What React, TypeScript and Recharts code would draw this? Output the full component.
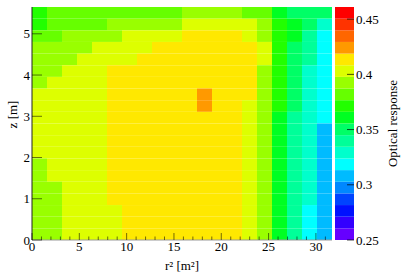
import React from 'react';
import { ScatterChart, Scatter, XAxis, YAxis, ReferenceArea } from 'recharts';

const FONT = "'Liberation Serif', 'Times New Roman', 'DejaVu Serif', serif";
const TEXT_STYLE = { fontFamily: FONT, fontSize: 13 };

// histogram ranges
const R2_MAX = 31.7;
const Z_MAX = 5.65;

// axis ticks
const xTicks = [0, 1, 2, 3, 4, 5, 6, 7, 8, 9, 10, 11, 12, 13, 14, 15, 16, 17, 18, 19, 20, 21, 22, 23, 24, 25, 26, 27, 28, 29, 30, 31];
const yTicks = [0, 1, 2, 3, 4, 5];
const scaleTicks = [0.25, 0.3, 0.35, 0.4, 0.45];

// colour scale
const SCALE_MIN = 0.25;
const SCALE_MAX = 0.461;
const palette = [
  '#6600ff', '#3300ff', '#0011ff', '#0044ff', '#0088ff',
  '#00bbff', '#00ffff', '#00ffcc', '#00ff99', '#00ff66',
  '#00ff22', '#22ff00', '#66ff00', '#99ff00', '#ddff00',
  '#ffe800', '#ff9900', '#ff6600', '#ff3300', '#ff0000',
];

// optical response, one array per z bin (zRow19 = top row), 20 r² bins each
const zRow19 = [0.371, 0.382, 0.382, 0.382, 0.382, 0.382, 0.382, 0.382, 0.382, 0.382, 0.392, 0.392, 0.392, 0.392, 0.382, 0.382, 0.361, 0.350, 0.350, 0.350];
const zRow18 = [0.371, 0.382, 0.382, 0.382, 0.382, 0.392, 0.392, 0.392, 0.392, 0.392, 0.403, 0.403, 0.403, 0.403, 0.403, 0.392, 0.371, 0.361, 0.350, 0.329];
const zRow17 = [0.382, 0.382, 0.392, 0.392, 0.392, 0.392, 0.403, 0.403, 0.403, 0.403, 0.413, 0.413, 0.413, 0.413, 0.403, 0.392, 0.371, 0.361, 0.340, 0.319];
const zRow16 = [0.392, 0.392, 0.392, 0.392, 0.403, 0.403, 0.403, 0.403, 0.413, 0.413, 0.413, 0.413, 0.413, 0.413, 0.413, 0.403, 0.371, 0.350, 0.340, 0.319];
const zRow15 = [0.392, 0.392, 0.392, 0.403, 0.403, 0.403, 0.403, 0.413, 0.413, 0.413, 0.413, 0.413, 0.413, 0.413, 0.413, 0.403, 0.371, 0.350, 0.340, 0.319];
const zRow14 = [0.392, 0.392, 0.403, 0.403, 0.403, 0.413, 0.413, 0.413, 0.413, 0.413, 0.413, 0.413, 0.413, 0.413, 0.413, 0.392, 0.371, 0.350, 0.329, 0.319];
const zRow13 = [0.392, 0.403, 0.403, 0.403, 0.403, 0.413, 0.413, 0.413, 0.413, 0.413, 0.413, 0.413, 0.413, 0.413, 0.413, 0.392, 0.371, 0.350, 0.329, 0.319];
const zRow12 = [0.403, 0.403, 0.403, 0.403, 0.403, 0.413, 0.413, 0.413, 0.413, 0.413, 0.413, 0.424, 0.413, 0.413, 0.413, 0.392, 0.371, 0.350, 0.329, 0.319];
const zRow11 = [0.403, 0.403, 0.403, 0.403, 0.403, 0.413, 0.413, 0.413, 0.413, 0.413, 0.413, 0.424, 0.413, 0.413, 0.403, 0.392, 0.371, 0.350, 0.329, 0.319];
const zRow10 = [0.403, 0.403, 0.403, 0.403, 0.403, 0.413, 0.413, 0.413, 0.413, 0.413, 0.413, 0.413, 0.413, 0.413, 0.403, 0.392, 0.361, 0.340, 0.329, 0.319];
const zRow9 = [0.403, 0.403, 0.403, 0.403, 0.403, 0.413, 0.413, 0.413, 0.413, 0.413, 0.413, 0.413, 0.413, 0.413, 0.403, 0.392, 0.361, 0.340, 0.329, 0.308];
const zRow8 = [0.403, 0.403, 0.403, 0.403, 0.403, 0.413, 0.413, 0.413, 0.413, 0.413, 0.413, 0.413, 0.413, 0.413, 0.403, 0.392, 0.361, 0.340, 0.329, 0.308];
const zRow7 = [0.403, 0.403, 0.403, 0.403, 0.403, 0.413, 0.413, 0.413, 0.413, 0.413, 0.413, 0.413, 0.413, 0.413, 0.403, 0.392, 0.361, 0.340, 0.329, 0.308];
const zRow6 = [0.392, 0.403, 0.403, 0.403, 0.403, 0.413, 0.413, 0.413, 0.413, 0.413, 0.413, 0.413, 0.413, 0.413, 0.403, 0.392, 0.361, 0.340, 0.329, 0.308];
const zRow5 = [0.392, 0.403, 0.403, 0.403, 0.403, 0.413, 0.413, 0.413, 0.413, 0.413, 0.413, 0.413, 0.413, 0.413, 0.403, 0.392, 0.361, 0.340, 0.329, 0.308];
const zRow4 = [0.392, 0.392, 0.403, 0.403, 0.403, 0.413, 0.413, 0.413, 0.413, 0.413, 0.413, 0.413, 0.413, 0.413, 0.403, 0.392, 0.361, 0.340, 0.329, 0.308];
const zRow3 = [0.392, 0.392, 0.403, 0.403, 0.403, 0.413, 0.413, 0.413, 0.413, 0.413, 0.413, 0.413, 0.413, 0.413, 0.403, 0.392, 0.361, 0.340, 0.329, 0.308];
const zRow2 = [0.392, 0.392, 0.403, 0.403, 0.403, 0.403, 0.413, 0.413, 0.413, 0.413, 0.413, 0.413, 0.413, 0.413, 0.403, 0.392, 0.361, 0.340, 0.319, 0.308];
const zRow1 = [0.392, 0.392, 0.403, 0.403, 0.403, 0.403, 0.413, 0.413, 0.413, 0.413, 0.413, 0.413, 0.413, 0.413, 0.403, 0.392, 0.361, 0.340, 0.319, 0.308];
const zRow0 = [0.392, 0.392, 0.403, 0.403, 0.403, 0.403, 0.413, 0.413, 0.413, 0.413, 0.413, 0.413, 0.413, 0.413, 0.403, 0.392, 0.361, 0.340, 0.319, 0.308];

const rowsTopDown = [
  zRow19, zRow18, zRow17, zRow16, zRow15, zRow14, zRow13, zRow12, zRow11, zRow10,
  zRow9, zRow8, zRow7, zRow6, zRow5, zRow4, zRow3, zRow2, zRow1, zRow0,
];

const N_Z = rowsTopDown.length;
const N_R = rowsTopDown[0].length;
const dR = R2_MAX / N_R;
const dZ = Z_MAX / N_Z;
const STEP = (SCALE_MAX - SCALE_MIN) / palette.length;

const colorOf = (v: number) => {
  const i = Math.floor((v - SCALE_MIN) / STEP);
  return palette[Math.max(0, Math.min(palette.length - 1, i))];
};

const cells = rowsTopDown.flatMap((row, i) =>
  row.map((v, j) => ({
    r0: j * dR,
    r1: (j + 1) * dR,
    z0: (N_Z - 1 - i) * dZ,
    z1: (N_Z - i) * dZ,
    r: (j + 0.5) * dR,
    z: (N_Z - 0.5 - i) * dZ,
    v,
  }))
);

const bands = palette.map((c, k) => ({ lo: SCALE_MIN + k * STEP, hi: SCALE_MIN + (k + 1) * STEP, c }));

const TICK_STROKE = '#000';
const TICK_OPACITY = 0.55;

const XTick = (p: any) => {
  const v = p.payload.value;
  const major = v % 5 === 0;
  return (
    <g>
      <line x1={p.x} x2={p.x} y1={p.y} y2={p.y - (major ? 7 : 3.5)} stroke={TICK_STROKE} strokeOpacity={TICK_OPACITY} />
      {major && (
        <text x={p.x} y={p.y + 11} textAnchor="middle" style={TEXT_STYLE} fill="#000">
          {v}
        </text>
      )}
    </g>
  );
};

const YTick = (p: any) => {
  const v = p.payload.value;
  return (
    <g>
      <line x1={p.x} x2={p.x + 10} y1={p.y} y2={p.y} stroke={TICK_STROKE} strokeOpacity={TICK_OPACITY} />
      <text x={p.x - 2} y={p.y} dy="0.35em" textAnchor="end" style={TEXT_STYLE} fill="#000">
        {v}
      </text>
    </g>
  );
};

const ScaleTick = (p: any) => {
  const v = p.payload.value;
  return (
    <g>
      <line x1={p.x} x2={p.x - 7} y1={p.y} y2={p.y} stroke="#000" strokeOpacity={0.7} />
      <text x={p.x + 2} y={p.y} dy="0.35em" textAnchor="start" style={TEXT_STYLE} fill="#000">
        {v}
      </text>
    </g>
  );
};

const XTitle = (p: any) => {
  const vb = p.viewBox;
  return (
    <text x={vb.x + vb.width / 2} y={vb.y + vb.height - 6} textAnchor="middle" style={TEXT_STYLE} fill="#000">
      r² [m²]
    </text>
  );
};

const YTitle = (p: any) => {
  const vb = p.viewBox;
  const cx = vb.x + 12;
  const cy = vb.y + vb.height / 2 - 9;
  return (
    <text x={cx} y={cy} dy="0.35em" textAnchor="middle" transform={`rotate(-90, ${cx}, ${cy})`} style={TEXT_STYLE} fill="#000">
      z [m]
    </text>
  );
};

const ScaleTitle = (p: any) => {
  const vb = p.viewBox;
  const cx = vb.x + 38;
  const cy = vb.y + vb.height / 2;
  return (
    <text x={cx} y={cy} dy="0.35em" textAnchor="middle" transform={`rotate(-90, ${cx}, ${cy})`} style={TEXT_STYLE} fill="#000">
      Optical response
    </text>
  );
};

export default function App() {
  return (
    <div style={{ position: 'absolute', left: 0, top: 0, width: 407, height: 276, background: '#fff', fontFamily: FONT }}>
      <div style={{ position: 'absolute', left: 0, top: 0 }}>
        <ScatterChart width={407} height={276} margin={{ top: 7, right: 75, bottom: 0, left: 0 }}>
          <XAxis
            dataKey="r"
            type="number"
            domain={[0, R2_MAX]}
            ticks={xTicks}
            interval={0}
            tickLine={false}
            tickSize={0}
            tickMargin={0}
            axisLine={{ stroke: '#999' }}
            tick={<XTick />}
            height={36}
            label={{ content: <XTitle /> }}
          />
          <XAxis xAxisId="top" orientation="top" type="number" domain={[0, R2_MAX]} tick={false} tickLine={false} height={0} axisLine={{ stroke: '#999' }} />
          <YAxis
            dataKey="z"
            type="number"
            domain={[0, Z_MAX]}
            ticks={yTicks}
            interval={0}
            tickLine={false}
            tickSize={0}
            tickMargin={0}
            axisLine={{ stroke: '#222' }}
            tick={<YTick />}
            width={32}
            label={{ content: <YTitle /> }}
          />
          {cells.map((c, k) => (
            <ReferenceArea
              key={k}
              x1={c.r0}
              x2={c.r1}
              y1={c.z0}
              y2={c.z1}
              fill={colorOf(c.v)}
              fillOpacity={1}
              stroke="none"
              ifOverflow="visible"
            />
          ))}
          <Scatter data={cells} isAnimationActive={false} shape={() => <g />} />
        </ScatterChart>
      </div>
      <div style={{ position: 'absolute', left: 335, top: 0 }}>
        <ScatterChart width={72} height={276} margin={{ top: 7, right: 0, bottom: 36, left: 0 }}>
          <XAxis type="number" dataKey="x" domain={[0, 1]} hide />
          <YAxis
            type="number"
            dataKey="y"
            orientation="right"
            domain={[SCALE_MIN, SCALE_MAX]}
            ticks={scaleTicks}
            interval={0}
            tickLine={false}
            tickSize={0}
            tickMargin={0}
            axisLine={false}
            tick={<ScaleTick />}
            width={53}
            label={{ content: <ScaleTitle /> }}
          />
          {bands.map((b, k) => (
            <ReferenceArea key={k} x1={0} x2={1} y1={b.lo} y2={b.hi} fill={b.c} fillOpacity={1} stroke="none" ifOverflow="visible" />
          ))}
          <Scatter data={bands.map((b) => ({ x: 0.5, y: (b.lo + b.hi) / 2 }))} isAnimationActive={false} shape={() => <g />} />
        </ScatterChart>
      </div>
    </div>
  );
}
